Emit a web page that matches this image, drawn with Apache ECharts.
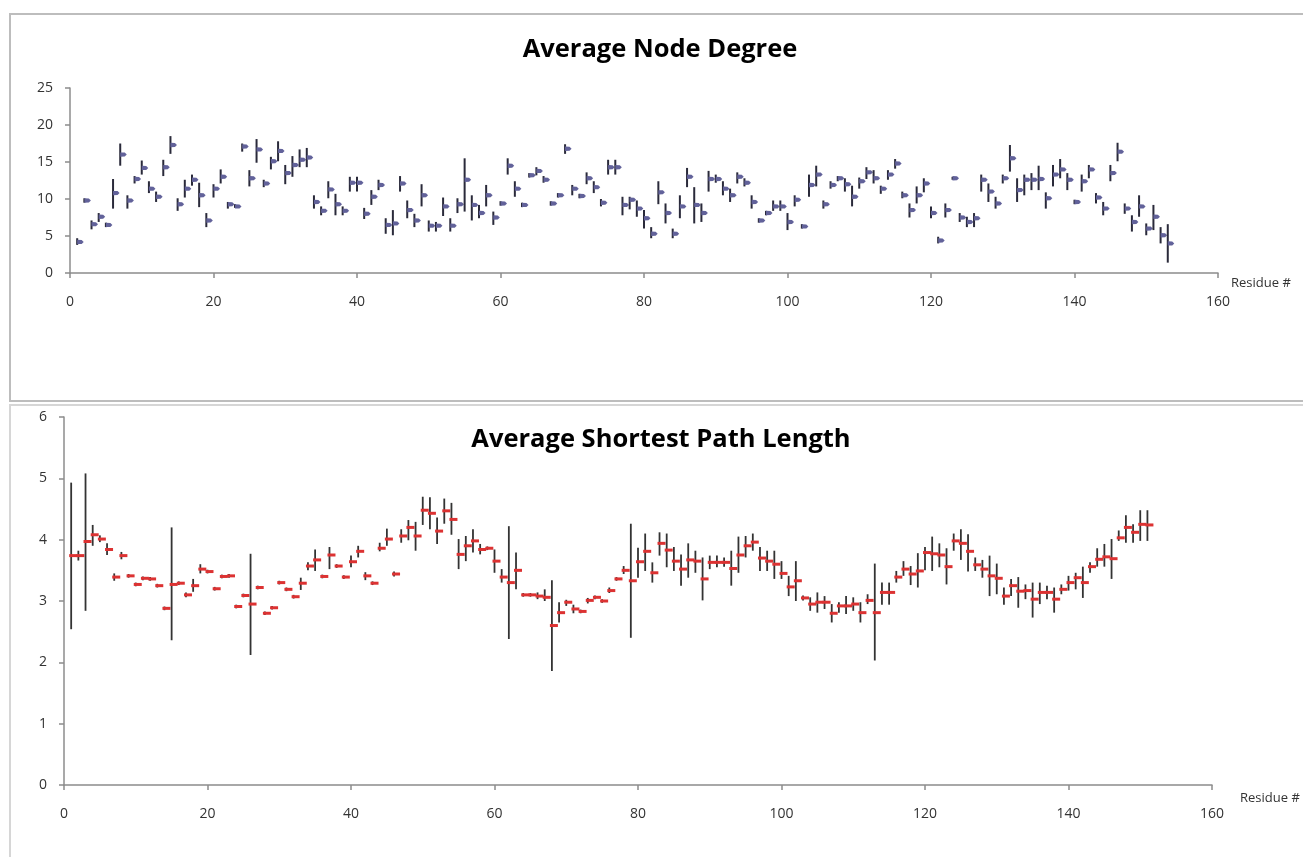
<!DOCTYPE html>
<html>
<head>
<meta charset="utf-8">
<script src="https://cdn.jsdelivr.net/npm/echarts@6/dist/echarts.min.js"></script>
<style>
html,body{margin:0;padding:0;background:#fff;}
#main{width:1303px;height:857px;}
</style>
</head>
<body>
<div id="main"></div>
<script>
// ---- Data ----
const residues = [1,2,3,4,5,6,7,8,9,10,11,12,13,14,15,16,17,18,19,20,21,22,23,24,25,26,27,28,29,30,
31,32,33,34,35,36,37,38,39,40,41,42,43,44,45,46,47,48,49,50,51,52,53,54,55,56,57,58,59,60,
61,62,63,64,65,66,67,68,69,70,71,72,73,74,75,76,77,78,79,80,81,82,83,84,85,86,87,88,89,90,
91,92,93,94,95,96,97,98,99,100,101,102,103,104,105,106,107,108,109,110,111,112,113,114,115,116,117,118,119,120,
121,122,123,124,125,126,127,128,129,130,131,132,133,134,135,136,137,138,139,140,141,142,143,144,145,146,147,148,149,150,
151,152,153];

const xTicks = [0,20,40,60,80,100,120,140,160];
const degreeTicks = [0,5,10,15,20,25];
const pathTicks = [0,1,2,3,4,5,6];

// Average Node Degree: close / high / low per residue
const degreeClose = [4.2,9.8,6.6,7.6,6.5,10.8,16.0,9.8,12.7,14.2, 11.4,10.3,14.3,17.3,9.3,11.4,12.6,10.5,7.1,11.4,
13.0,9.3,9.0,17.1,12.8,16.7,12.1,15.1,16.5,13.5, 14.6,15.3,15.6,9.6,8.4,11.3,9.3,8.4,12.2,12.2,
8.0,10.3,11.9,6.5,6.7,12.1,8.5,7.1,10.5,6.4, 6.4,9.0,6.4,9.3,12.6,9.2,8.1,10.5,7.5,9.4,
14.5,11.4,9.2,13.2,13.8,12.6,9.4,10.5,16.8,11.4, 10.4,12.8,11.6,9.5,14.3,14.3,9.2,9.9,8.7,7.4,
5.3,10.9,8.1,5.3,9.0,13.0,9.2,8.1,12.7,12.7, 11.4,10.5,13.0,12.2,9.6,7.1,8.1,9.0,9.0,6.9,
9.9,6.3,11.9,13.3,9.3,11.9,12.8,12.0,10.3,12.4, 13.6,12.8,11.4,13.3,14.8,10.5,8.5,10.5,12.1,8.1,
4.4,8.5,12.8,7.5,6.9,7.4,12.6,11.0,9.4,12.8, 15.5,11.2,12.6,12.6,12.7,10.1,13.3,14.0,12.6,9.6,
12.4,14.0,10.2,8.7,13.5,16.4,8.7,6.9,9.0,6.0, 7.6,5.1,4.0];
const degreeHigh = [4.7,10.1,7.1,8.1,6.8,12.7,17.5,10.5,13.1,15.2, 12.4,11.0,15.3,18.5,10.1,12.6,13.3,12.2,8.1,12.0,
14.0,9.6,9.3,17.5,13.9,18.1,12.6,15.7,17.8,14.6, 15.8,16.7,16.9,10.5,9.0,12.4,10.7,9.0,13.0,13.0,
8.8,11.2,12.6,7.4,8.5,13.1,9.8,8.0,12.0,7.1, 6.9,10.2,7.4,10.1,15.5,10.5,9.2,11.9,8.3,9.7,
15.5,12.4,9.5,13.5,14.3,13.1,9.7,10.8,17.4,11.9, 10.7,13.6,12.4,10.0,15.3,15.3,10.3,10.3,9.8,8.5,
6.2,12.4,9.4,6.0,10.5,14.2,11.6,9.4,13.8,13.3, 12.4,11.4,13.6,12.8,10.5,7.4,8.4,9.8,9.8,8.1,
10.5,6.6,13.3,14.5,9.8,12.4,13.1,12.8,11.8,12.9, 14.3,13.9,11.8,13.9,15.4,11.0,9.4,11.7,12.8,9.0,
4.9,9.4,13.0,8.1,7.6,8.1,13.3,12.1,10.3,13.3, 17.3,12.8,13.3,13.5,14.5,10.9,14.6,15.4,13.5,9.9,
13.3,14.6,10.8,9.6,14.6,17.6,9.4,7.8,10.5,6.7, 9.2,6.2,6.6];
const degreeLow = [3.8,9.5,5.9,6.9,6.2,8.7,14.5,8.7,12.1,13.3, 10.8,9.6,13.1,16.1,8.4,10.2,11.8,8.9,6.2,10.2,
12.1,8.7,8.8,16.4,11.7,14.9,11.6,14.0,15.1,12.0, 13.0,14.3,14.3,8.7,7.8,10.1,7.8,7.8,11.0,11.0,
7.3,9.2,11.2,5.3,5.1,11.0,7.4,6.2,9.0,5.6, 5.6,7.7,5.6,8.1,8.3,7.1,7.4,9.0,6.5,9.1,
13.3,10.3,8.9,12.9,13.2,12.2,9.1,10.2,16.1,10.5, 10.1,12.0,10.8,9.0,13.3,13.3,7.8,8.6,7.6,6.0,
4.7,9.3,6.7,4.7,7.4,11.6,6.7,6.9,11.0,12.2, 10.5,9.6,12.1,11.7,8.7,6.8,7.8,8.4,8.4,5.8,
9.0,6.0,10.3,11.7,8.7,11.4,12.4,11.0,9.0,11.4, 12.7,12.1,10.7,12.6,14.1,10.1,7.5,9.4,10.9,7.4,
4.0,7.5,12.6,6.9,6.2,6.2,11.0,9.6,8.7,12.1, 13.7,9.6,10.5,11.2,11.2,8.7,11.7,12.8,11.2,9.3,
11.0,12.8,9.4,7.8,12.4,15.1,8.0,5.6,7.6,5.1, 5.8,4.0,1.4];

// Average Shortest Path Length: close / high / low per residue
const pathClose = [3.74,3.74,3.97,4.08,4.01,3.84,3.39,3.74,3.41,3.27, 3.37,3.36,3.25,2.88,3.27,3.29,3.10,3.25,3.52,3.48,
3.20,3.40,3.41,2.91,3.09,2.95,3.22,2.80,2.89,3.30, 3.19,3.07,3.29,3.57,3.67,3.40,3.75,3.57,3.39,3.64,
3.81,3.41,3.29,3.86,4.01,3.44,4.06,4.20,4.06,4.48, 4.43,4.14,4.47,4.33,3.76,3.90,3.98,3.84,3.86,3.65,
3.39,3.30,3.50,3.10,3.10,3.08,3.06,2.60,2.81,2.98, 2.87,2.83,3.01,3.06,3.00,3.17,3.36,3.50,3.33,3.64,
3.81,3.46,3.94,3.83,3.65,3.52,3.67,3.65,3.36,3.63, 3.63,3.63,3.53,3.75,3.90,3.96,3.70,3.65,3.60,3.45,
3.23,3.33,3.05,2.95,2.98,2.98,2.80,2.92,2.92,2.95, 2.81,3.01,2.81,3.14,3.14,3.39,3.52,3.44,3.49,3.79,
3.77,3.75,3.56,3.98,3.94,3.81,3.59,3.52,3.41,3.37, 3.08,3.25,3.16,3.17,3.03,3.14,3.14,3.03,3.19,3.30,
3.38,3.30,3.56,3.68,3.72,3.69,4.03,4.20,4.12,4.25, 4.24];
const pathHigh = [4.93,3.82,5.08,4.24,4.07,3.94,3.45,3.80,3.44,3.30, 3.40,3.39,3.28,2.91,4.20,3.32,3.14,3.36,3.60,3.51,
3.23,3.43,3.44,2.94,3.12,3.77,3.25,2.83,2.92,3.33, 3.22,3.10,3.38,3.63,3.84,3.43,3.88,3.60,3.42,3.74,
3.90,3.47,3.32,3.95,4.18,3.48,4.17,4.32,4.29,4.70, 4.69,4.36,4.67,4.60,4.01,4.06,4.17,3.93,3.89,3.84,
3.52,4.22,3.79,3.13,3.13,3.14,3.19,3.34,2.98,3.02, 2.94,2.86,3.05,3.09,3.03,3.22,3.39,3.57,4.26,3.87,
4.10,3.63,4.12,4.10,3.88,3.76,3.94,3.82,3.71,3.74, 3.74,3.71,3.82,4.05,4.06,4.10,3.88,3.82,3.82,3.65,
3.41,3.65,3.09,3.06,3.14,3.08,2.95,2.98,3.08,3.06, 2.98,3.11,3.61,3.30,3.30,3.49,3.65,3.57,3.78,3.88,
4.05,3.94,3.86,4.10,4.17,4.09,3.71,3.67,3.74,3.61, 3.22,3.36,3.39,3.27,3.30,3.30,3.25,3.22,3.27,3.41,
3.46,3.56,3.63,3.86,3.93,4.01,4.15,4.40,4.25,4.48, 4.48];
const pathLow = [2.54,3.66,2.84,3.90,3.96,3.75,3.33,3.68,3.38,3.24, 3.34,3.33,3.22,2.85,2.36,3.26,3.06,3.15,3.45,3.45,
3.17,3.37,3.38,2.88,3.06,2.12,3.19,2.77,2.86,3.27, 3.16,3.04,3.18,3.50,3.49,3.37,3.52,3.54,3.36,3.55,
3.71,3.34,3.26,3.81,3.90,3.40,3.95,3.99,3.82,4.24, 4.17,3.93,4.26,4.08,3.52,3.65,3.79,3.76,3.83,3.46,
3.30,2.38,3.19,3.07,3.07,3.03,3.00,1.86,2.65,2.92, 2.80,2.80,2.96,3.03,2.97,3.13,3.33,3.44,2.40,3.38,
3.49,3.30,3.74,3.55,3.49,3.25,3.38,3.46,3.01,3.52, 3.55,3.56,3.25,3.46,3.71,3.82,3.49,3.49,3.36,3.36,
3.08,3.00,3.01,2.84,2.81,2.87,2.65,2.81,2.79,2.84, 2.65,2.95,2.03,2.94,2.94,3.30,3.41,3.26,3.22,3.50,
3.49,3.55,3.27,3.82,3.67,3.48,3.49,3.38,3.08,3.11, 2.94,3.08,2.89,3.03,2.73,2.95,3.03,2.81,3.11,3.17,
3.19,3.05,3.46,3.56,3.56,3.36,3.98,3.95,3.95,3.98, 3.98];

// ---- Build ----
const degreeData = degreeClose.map((c, i) => [residues[i], degreeLow[i], degreeHigh[i], c]);
const pathData = pathClose.map((c, i) => [residues[i], pathLow[i], pathHigh[i], c]);

const FONT = 'Open Sans';
const axisGray = '#8c8c8c';

function renderDegree(params, api) {
  const x = api.value(0);
  const lo = api.coord([x, api.value(1)]);
  const hi = api.coord([x, api.value(2)]);
  const cl = api.coord([x, api.value(3)]);
  return {
    type: 'group',
    children: [
      { type: 'line', shape: { x1: lo[0], y1: lo[1], x2: hi[0], y2: hi[1] },
        style: { stroke: '#2a2a3a', lineWidth: 2 } },
      { type: 'polygon', shape: { points: [[cl[0], cl[1] - 2.2], [cl[0] + 4.5, cl[1] - 2], [cl[0] + 6.5, cl[1]], [cl[0] + 4.5, cl[1] + 2], [cl[0], cl[1] + 2.2]] },
        style: { fill: '#62629a' } }
    ]
  };
}

function renderPath(params, api) {
  const x = api.value(0);
  const lo = api.coord([x, api.value(1)]);
  const hi = api.coord([x, api.value(2)]);
  const cl = api.coord([x, api.value(3)]);
  return {
    type: 'group',
    children: [
      { type: 'line', shape: { x1: lo[0], y1: lo[1], x2: hi[0], y2: hi[1] },
        style: { stroke: '#333333', lineWidth: 1.8 } },
      { type: 'rect', shape: { x: cl[0] - 2, y: cl[1] - 1.5, width: 8, height: 3 },
        style: { fill: '#dc3232' } }
    ]
  };
}

function xAxisCfg(gridIndex) {
  return {
    type: 'value', gridIndex: gridIndex, min: xTicks[0], max: xTicks[xTicks.length - 1],
    interval: xTicks[1] - xTicks[0],
    axisLine: { show: true, onZero: false, lineStyle: { color: axisGray, width: 1.5 } },
    axisTick: { show: true, length: 5, lineStyle: { color: axisGray, width: 1.5 } },
    axisLabel: { color: '#333', fontSize: 14, fontFamily: FONT, margin: 22 },
    splitLine: { show: false }
  };
}
function yAxisCfg(gridIndex, ticks) {
  return {
    type: 'value', gridIndex: gridIndex, min: ticks[0], max: ticks[ticks.length - 1],
    interval: ticks[1] - ticks[0],
    axisLine: { show: true, lineStyle: { color: axisGray, width: 1.5 } },
    axisTick: { show: true, length: 5, lineStyle: { color: axisGray, width: 1.5 } },
    axisLabel: { color: '#333', fontSize: 14, fontFamily: FONT, margin: 17 },
    splitLine: { show: false }
  };
}

const chart = echarts.init(document.getElementById('main'), null, { renderer: 'canvas' });
chart.setOption({
  animation: false,
  backgroundColor: '#ffffff',
  grid: [
    { left: 70, top: 88, width: 1148, height: 185 },
    { left: 64, top: 417, width: 1148, height: 368 }
  ],
  xAxis: [xAxisCfg(0), xAxisCfg(1)],
  yAxis: [yAxisCfg(0, degreeTicks), yAxisCfg(1, pathTicks)],
  graphic: [
    { type: 'rect', shape: { x: 10, y: 14, width: 1310, height: 387 },
      style: { fill: 'none', stroke: '#bdbdbd', lineWidth: 2 }, z: -1 },
    { type: 'rect', shape: { x: 10, y: 405, width: 1310, height: 470 },
      style: { fill: 'none', stroke: '#d6d6d6', lineWidth: 2 }, z: -1 },
    { type: 'text', x: 660, y: 50, style: { text: 'Average Node Degree', fontSize: 25.5, fontWeight: 'bold', fontFamily: FONT, fill: '#000', align: 'center', verticalAlign: 'middle' } },
    { type: 'text', x: 661, y: 440, style: { text: 'Average Shortest Path Length', fontSize: 25.5, fontWeight: 'bold', fontFamily: FONT, fill: '#000', align: 'center', verticalAlign: 'middle' } },
    { type: 'text', x: 1231, y: 283, style: { text: 'Residue #', fontSize: 13, fontFamily: FONT, fill: '#333', align: 'left', verticalAlign: 'middle' } },
    { type: 'text', x: 1240, y: 798, style: { text: 'Residue #', fontSize: 13, fontFamily: FONT, fill: '#333', align: 'left', verticalAlign: 'middle' } }
  ],
  series: [
    { type: 'custom', xAxisIndex: 0, yAxisIndex: 0, renderItem: renderDegree,
      encode: { x: 0, y: [1, 2, 3] }, data: degreeData, clip: false },
    { type: 'custom', xAxisIndex: 1, yAxisIndex: 1, renderItem: renderPath,
      encode: { x: 0, y: [1, 2, 3] }, data: pathData, clip: false }
  ]
});
</script>
</body>
</html>
